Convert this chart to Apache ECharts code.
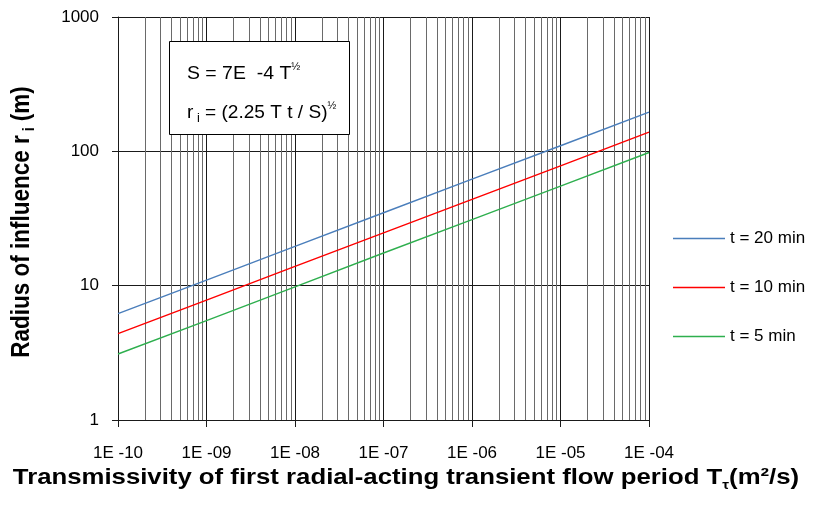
<!DOCTYPE html>
<html>
<head>
<meta charset="utf-8">
<script src="https://cdn.jsdelivr.net/npm/echarts@6/dist/echarts.min.js"></script>
<style>
  html, body { margin: 0; padding: 0; background: #ffffff; }
  #chart { width: 813px; height: 505px; }
</style>
</head>
<body>
<div id="chart"></div>
<script>
// Transmissivity T (m²/s) at each decade of the x axis
const transmissivity = [1e-10, 1e-9, 1e-8, 1e-7, 1e-6, 1e-5, 1e-4];

// Radius of influence r_i (m) for each pumping duration
const radius20min = [6.2, 11.0, 19.6, 34.9, 62.1, 110, 196];
const radius10min = [4.4, 7.8, 13.9, 24.7, 43.9, 78, 139];
const radius5min  = [3.1, 5.5, 9.8, 17.5, 31.0, 55, 98];

const seriesNames = ['t = 20 min', 't = 10 min', 't = 5 min'];
const seriesColors = ['#4a7ebb', '#ff0000', '#2eaf4e'];

// Axis ranges
const xRange = [1e-10, 1e-4];
const yRange = [1, 1000];

// Intermediate vertical grid positions (2..9 within each decade)
const minorMantissas = [2, 3, 4, 5, 6, 7, 8, 9];
const minorDecades = [1e-10, 1e-9, 1e-8, 1e-7, 1e-6, 1e-5];

const FONT = '"Liberation Sans", Arial, sans-serif';

const minorGridData = [];
minorDecades.forEach(d => minorMantissas.forEach(m => minorGridData.push([m * d, yRange[0]])));

function pairs(ys) { return transmissivity.map((t, i) => [t, ys[i]]); }

const chart = echarts.init(document.getElementById('chart'), null, { renderer: 'canvas' });

const lineSeries = [radius20min, radius10min, radius5min].map((ys, i) => ({
  name: seriesNames[i],
  type: 'line',
  data: pairs(ys),
  showSymbol: false,
  symbol: 'none',
  z: 5,
  lineStyle: { color: seriesColors[i], width: 1.4 },
  itemStyle: { color: seriesColors[i] },
  silent: true,
  animation: false
}));

chart.setOption({
  backgroundColor: '#ffffff',
  animation: false,
  textStyle: { fontFamily: FONT },
  grid: { left: 118, top: 17, right: 164, bottom: 85, containLabel: false },
  legend: {
    orient: 'vertical',
    left: 673,
    top: 230,
    padding: 0,
    data: seriesNames,
    icon: 'rect',
    itemWidth: 52,
    itemHeight: 1.5,
    itemGap: 32,
    textStyle: { fontSize: 17, color: '#000', fontFamily: FONT },
    selectedMode: false
  },
  xAxis: {
    type: 'log',
    logBase: 10,
    min: xRange[0],
    max: xRange[1],
    axisLine: { show: true, lineStyle: { color: '#1a1a1a', width: 1 } },
    axisTick: { show: true, length: 7, inside: false, lineStyle: { color: '#1a1a1a' } },
    axisLabel: {
      fontSize: 17,
      color: '#000',
      margin: 25,
      formatter: v => {
        const e = Math.round(Math.log10(v));
        const a = Math.abs(e);
        return '1E ' + (e < 0 ? '-' : '+') + (a < 10 ? '0' + a : String(a));
      }
    },
    splitLine: { show: true, lineStyle: { color: '#1a1a1a', width: 1 } }
  },
  yAxis: {
    type: 'log',
    logBase: 10,
    min: yRange[0],
    max: yRange[1],
    axisLine: { show: true, lineStyle: { color: '#1a1a1a', width: 1 } },
    axisTick: { show: true, length: 6, inside: false, lineStyle: { color: '#1a1a1a' } },
    axisLabel: {
      fontSize: 17,
      color: '#000',
      margin: 19,
      formatter: v => String(Math.round(v))
    },
    splitLine: { show: true, lineStyle: { color: '#1a1a1a', width: 1 } }
  },
  series: [
    {
      // vertical grid lines at 2..9 inside each decade
      name: 'minor-grid',
      type: 'custom',
      z: 1,
      silent: true,
      clip: true,
      encode: { x: 0, y: 1 },
      data: minorGridData,
      renderItem: (params, api) => {
        const x = api.value(0);
        const p1 = api.coord([x, yRange[0]]);
        const p2 = api.coord([x, yRange[1]]);
        const px = Math.round(p1[0]) + 0.5;
        return {
          type: 'line',
          shape: { x1: px, y1: p1[1], x2: px, y2: p2[1] },
          style: { stroke: '#6a6a6a', lineWidth: 1 }
        };
      }
    }
  ].concat(lineSeries),
  graphic: [
    {
      // formula box
      type: 'rect',
      left: 169,
      top: 41,
      z: 100,
      shape: { x: 0, y: 0, width: 180, height: 93 },
      style: { fill: '#ffffff', stroke: '#000000', lineWidth: 1 }
    },
    {
      type: 'text',
      x: 187,
      y: 74,
      scaleX: 1.08,
      z: 101,
      style: {
        text: '{m|S = 7E  -4 T}{p|½}',
        verticalAlign: 'middle',
        rich: {
          m: { fontSize: 18, color: '#000', fontFamily: FONT, lineHeight: 24 },
          p: { fontSize: 10, color: '#000', fontFamily: FONT, lineHeight: 10, verticalAlign: 'top' }
        }
      }
    },
    {
      type: 'text',
      x: 187,
      y: 113,
      scaleX: 1.06,
      z: 101,
      style: {
        text: '{m|r}{s| i}{m| = (2.25 T t / S)}{p|½}',
        verticalAlign: 'middle',
        rich: {
          m: { fontSize: 18, color: '#000', fontFamily: FONT, lineHeight: 24 },
          s: { fontSize: 12, color: '#000', fontFamily: FONT, lineHeight: 12, verticalAlign: 'bottom' },
          p: { fontSize: 10, color: '#000', fontFamily: FONT, lineHeight: 10, verticalAlign: 'top' }
        }
      }
    },
    {
      // x axis title
      type: 'text',
      x: 406,
      y: 478,
      scaleX: 1.17,
      z: 100,
      style: {
        text: '{b|Transmissivity of first radial-acting transient flow period T}{s|τ}{b|(m²/s)}',
        align: 'center',
        verticalAlign: 'middle',
        rich: {
          b: { fontSize: 22, fontWeight: 'bold', color: '#000', fontFamily: FONT, lineHeight: 28 },
          s: { fontSize: 13, fontWeight: 'bold', color: '#000', fontFamily: FONT, lineHeight: 13, verticalAlign: 'bottom' }
        }
      }
    },
    {
      // y axis title
      type: 'text',
      x: 22,
      y: 222,
      rotation: Math.PI / 2,
      scaleY: 1.12,
      z: 100,
      style: {
        text: '{b|Radius of influence r}{s| i}{b| (m)}',
        align: 'center',
        verticalAlign: 'middle',
        rich: {
          b: { fontSize: 22.5, fontWeight: 'bold', color: '#000', fontFamily: FONT, lineHeight: 28 },
          s: { fontSize: 14, fontWeight: 'bold', color: '#000', fontFamily: FONT, lineHeight: 14, verticalAlign: 'bottom' }
        }
      }
    }
  ]
});
</script>
</body>
</html>
